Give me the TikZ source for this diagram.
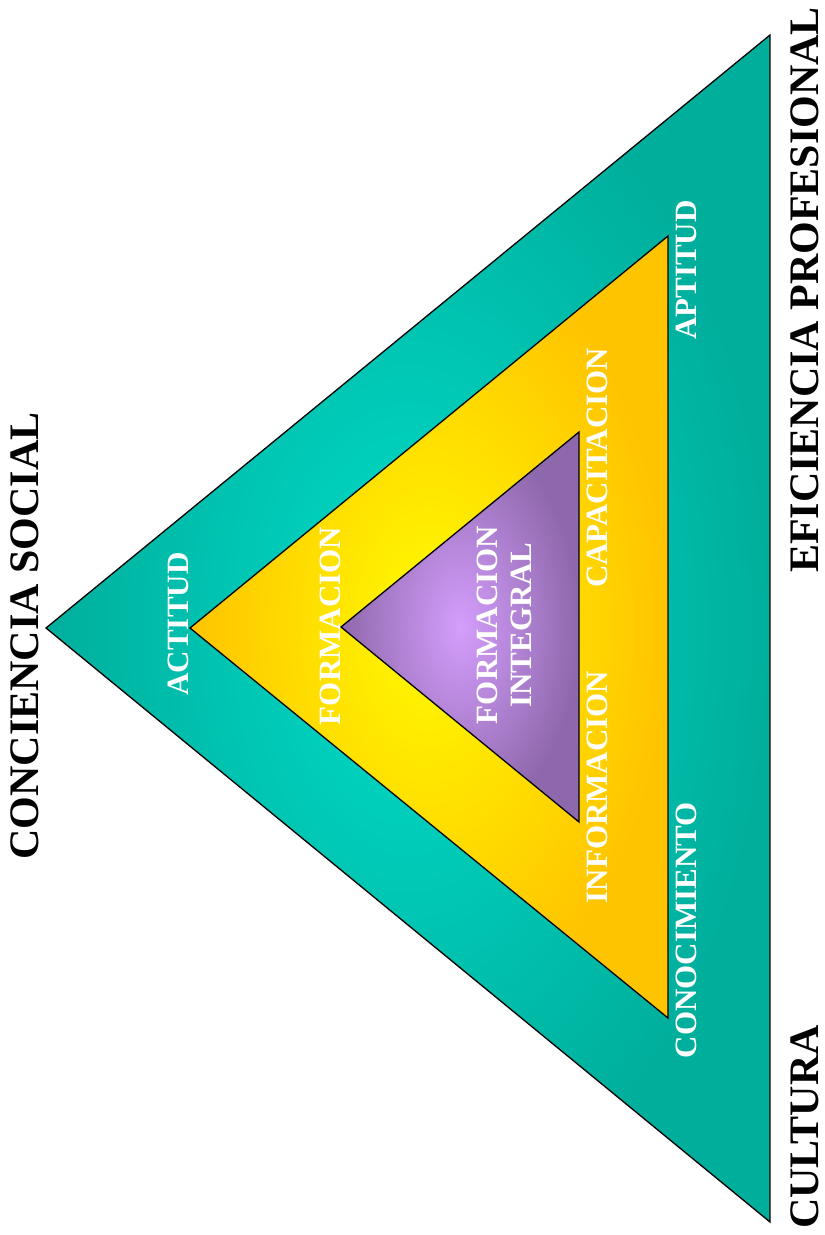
\documentclass[tikz,border=0pt]{standalone}
\usepackage{fontspec}
\setmainfont{Liberation Serif}
\definecolor{tealdark}{HTML}{00AE9C}
\definecolor{teallight}{HTML}{00DCC8}
\definecolor{yelbright}{HTML}{FFFA00}
\definecolor{yeledge}{HTML}{FFC400}
\definecolor{purlight}{HTML}{D49EFC}
\definecolor{purdark}{HTML}{8E68AC}
\tikzset{
  tri/.style={draw=black, line width=1.3pt, line join=miter},
  biglabel/.style={font=\bfseries\fontsize{42}{46}\selectfont, text=black, rotate=90, inner sep=0pt},
  wlabel/.style={font=\bfseries\fontsize{31}{34}\selectfont, text=white, rotate=90, inner sep=0pt},
}
\begin{document}
\begin{tikzpicture}[x=1pt,y=-1pt]
\useasboundingbox (0,0) rectangle (825,1235);
% outer triangle
\coordinate (oA) at (46,628);
\coordinate (oB) at (770,35);
\coordinate (oC) at (770,1222);
\shade[tri, inner color=teallight, outer color=tealdark] (oA) -- (oB) -- (oC) -- cycle;
% yellow triangle
\coordinate (yA) at (190,628);
\coordinate (yB) at (668,236);
\coordinate (yC) at (668,1018);
\shade[tri, inner color=yelbright, outer color=yeledge] (yA) -- (yB) -- (yC) -- cycle;
% purple triangle
\coordinate (pA) at (341,627);
\coordinate (pB) at (579,432);
\coordinate (pC) at (579,822);
\shade[tri, inner color=purlight, outer color=purdark] (pA) -- (pB) -- (pC) -- cycle;
% outer labels
\node[biglabel] (cs) at (25,636) {CONCIENCIA SOCIAL};
\node[biglabel] (ep) at (805,290) {EFICIENCIA PROFESIONAL};
\node[biglabel] (cu) at (805,1127) {CULTURA};
% white labels
\node[wlabel] (act) at (178,624) {ACTITUD};
\node[wlabel] (for) at (330,626) {FORMACION};
\node[wlabel, align=center, font=\bfseries\fontsize{31}{34}\selectfont] (fi) at (504,625) {FORMACION\\INTEGRAL};
\node[wlabel] (cap) at (597,468) {CAPACITACION};
\node[wlabel] (inf) at (597,787) {INFORMACION};
\node[wlabel] (apt) at (686,270) {APTITUD};
\node[wlabel] (con) at (686,930) {CONOCIMIENTO};
\end{tikzpicture}
\end{document}
